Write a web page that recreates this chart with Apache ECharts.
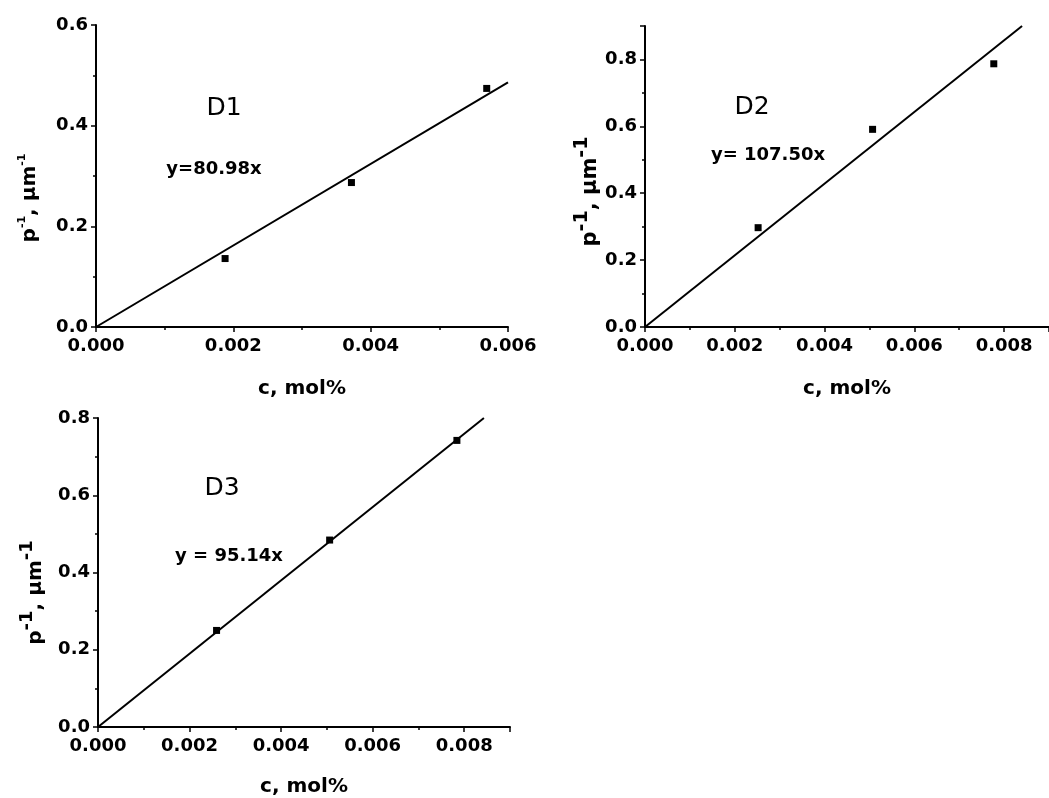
<!DOCTYPE html>
<html>
<head>
<meta charset="utf-8">
<title>p-1 vs c</title>
<script src="https://cdn.jsdelivr.net/npm/echarts@6/dist/echarts.min.js"></script>
<style>
  html, body { margin: 0; padding: 0; background: #fff; }
  #chart { width: 1049px; height: 798px; }
</style>
</head>
<body>
<div id="chart"></div>
<script>
// measured points, c (mol%) vs inverse period (um^-1)
var d1X = [0.00188, 0.00372, 0.00569];
var d1Y = [0.136, 0.287, 0.474];
var d2X = [0.00252, 0.00507, 0.00777];
var d2Y = [0.297, 0.591, 0.787];
var d3X = [0.00259, 0.00506, 0.00784];
var d3Y = [0.250, 0.484, 0.742];

// fitted straight lines through origin (end points)
var d1FitX = [0, 0.006];
var d1FitY = [0, 0.486];
var d2FitX = [0, 0.0084];
var d2FitY = [0, 0.9];
var d3FitX = [0, 0.00843];
var d3FitY = [0, 0.8];

var panelNames = ['D1', 'D2', 'D3'];
var equations = ['y=80.98x', 'y= 107.50x', 'y = 95.14x'];
var xMax = [0.006, 0.009, 0.009];
var yMax = [0.6, 0.9, 0.8];

var FONT = '"DejaVu Sans", sans-serif';

function pairs(xs, ys) {
    return xs.map(function (x, i) { return [x, ys[i]]; });
}

var chart = echarts.init(document.getElementById('chart'));

var grids = [
    { left: 96, top: 25, width: 412, height: 302 },
    { left: 645, top: 26, width: 411, height: 301 },
    { left: 98, top: 418, width: 412, height: 310 }
];

function xAxis(i, gap) {
    return {
        type: 'value', gridIndex: i, min: 0, max: xMax[i], interval: 0.002,
        name: 'c, mol%', nameLocation: 'middle', nameGap: gap,
        nameTextStyle: { fontFamily: FONT, fontSize: 20, fontWeight: 'bold', color: '#000' },
        axisLine: { lineStyle: { color: '#000', width: 2 } },
        axisTick: { length: 5, lineStyle: { color: '#000', width: 1.5 } },
        minorTick: { show: true, splitNumber: 2, length: 3, lineStyle: { color: '#000', width: 1.5 } },
        splitLine: { show: false },
        axisLabel: {
            fontFamily: FONT, fontSize: 18, fontWeight: 'bold', color: '#000', margin: 10,
            showMaxLabel: xMax[i] === 0.006,
            formatter: function (v) { return v.toFixed(3); }
        }
    };
}

function yAxis(i, gap, supSize, baseSize, lh, shift) {
    var rich = {
        a: { fontFamily: FONT, fontSize: baseSize, fontWeight: 'bold', color: '#000', lineHeight: lh, verticalAlign: 'bottom' },
        s: { fontFamily: FONT, fontSize: supSize, fontWeight: 'bold', color: '#000', lineHeight: supSize, verticalAlign: 'top' }
    };
    return {
        type: 'value', gridIndex: i, min: 0, max: yMax[i], interval: 0.2,
        name: '{a|p}{s|-1}{a|, μm}{s|-1}', nameLocation: 'middle', nameRotate: 90, nameGap: gap,
        nameTextStyle: { rich: rich, padding: [0, shift, 0, 0] },
        axisLine: { lineStyle: { color: '#000', width: 2 } },
        axisTick: { length: 5, lineStyle: { color: '#000', width: 1.5 } },
        minorTick: { show: true, splitNumber: 2, length: 3, lineStyle: { color: '#000', width: 1.5 } },
        splitLine: { show: false },
        axisLabel: {
            fontFamily: FONT, fontSize: 18, fontWeight: 'bold', color: '#000', margin: 8,
            showMaxLabel: yMax[i] !== 0.9,
            formatter: function (v) { return v.toFixed(1); }
        }
    };
}

function pointSeries(i, xs, ys) {
    return {
        type: 'scatter', xAxisIndex: i, yAxisIndex: i, data: pairs(xs, ys),
        symbol: 'rect', symbolSize: 7, itemStyle: { color: '#000', opacity: 1 }, z: 3
    };
}

function fitSeries(i, xs, ys) {
    return {
        type: 'line', xAxisIndex: i, yAxisIndex: i, data: pairs(xs, ys),
        showSymbol: false, lineStyle: { color: '#000', width: 2 }, silent: true
    };
}

// panel captions and equations
var notes = [
    { x: 224, y: 108, t: panelNames[0], big: true },
    { x: 214, y: 169, t: equations[0] },
    { x: 752, y: 107, t: panelNames[1], big: true },
    { x: 768, y: 155, t: equations[1] },
    { x: 222, y: 488, t: panelNames[2], big: true },
    { x: 229, y: 556, t: equations[2] }
];

var option = {
    backgroundColor: '#fff',
    animation: false,
    grid: grids,
    xAxis: [xAxis(0, 52), xAxis(1, 52), xAxis(2, 50)],
    yAxis: [yAxis(0, 56, 11, 20, 23, 44), yAxis(1, 43, 19, 21, 29, 30), yAxis(2, 52, 18, 20, 28, 40)],
    series: [
        fitSeries(0, d1FitX, d1FitY), pointSeries(0, d1X, d1Y),
        fitSeries(1, d2FitX, d2FitY), pointSeries(1, d2X, d2Y),
        fitSeries(2, d3FitX, d3FitY), pointSeries(2, d3X, d3Y)
    ],
    graphic: notes.map(function (n) {
        return {
            type: 'text', x: n.x, y: n.y,
            style: {
                text: n.t, fill: '#000', align: 'center', verticalAlign: 'middle',
                font: n.big ? ('25px ' + FONT) : ('bold 18px ' + FONT)
            }
        };
    })
};

chart.setOption(option);
</script>
</body>
</html>
